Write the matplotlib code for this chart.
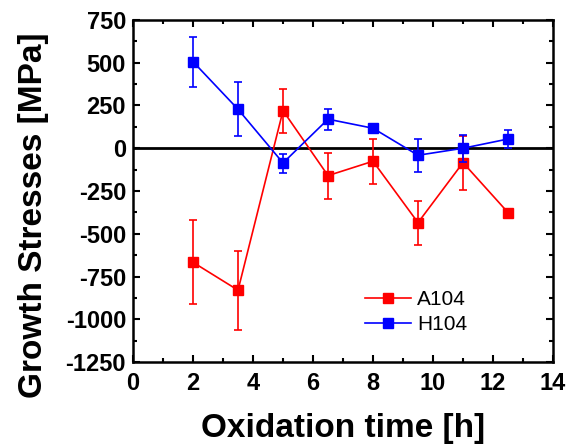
import matplotlib
matplotlib.use("Agg")
import matplotlib.pyplot as plt
from matplotlib.ticker import MultipleLocator

# oxidation time [h]
time_h = [2, 3.5, 5, 6.5, 8, 9.5, 11, 12.5]

# A104 (red)
a104 = [-667, -830, 220, -160, -76, -435, -84, -376]
a104_lo = [246, 233, 131, 136, 131, 132, 163, 20]
a104_hi = [246, 228, 129, 133, 130, 127, 156, 20]

# H104 (blue)
h104 = [506, 228, -86, 170, 117, -41, 0, 54]
h104_lo = [148, 154, 57, 61, 12, 96, 82, 50]
h104_hi = [143, 158, 54, 60, 12, 95, 78, 51]

RED = "#ff0000"
BLUE = "#0000ff"

plt.rcParams["font.family"] = ["Liberation Sans", "DejaVu Sans"]
plt.rcParams["axes.unicode_minus"] = False

fig = plt.figure(figsize=(5.85, 4.46), dpi=100)
ax = fig.add_axes([0.2274, 0.1883, 0.7179, 0.7669])

ax.axhline(0, color="black", lw=2.0, zorder=1)

handles = []
for x, y, lo, hi, color, label, z in [
    (time_h, a104, a104_lo, a104_hi, RED, "A104", 2),
    (time_h, h104, h104_lo, h104_hi, BLUE, "H104", 3),
]:
    eb = ax.errorbar(x, y, yerr=[lo, hi], color=color, lw=1.2, elinewidth=1.2,
                     capsize=3, capthick=1.2, marker="s", markersize=7.5,
                     label=label, zorder=z)
    handles.append(eb[0])

ax.set_xlim(0, 14)
ax.set_ylim(-1250, 750)
ax.xaxis.set_major_locator(MultipleLocator(2))
ax.xaxis.set_minor_locator(MultipleLocator(1))
ax.yaxis.set_major_locator(MultipleLocator(250))
ax.yaxis.set_minor_locator(MultipleLocator(125))
ax.tick_params(which="both", direction="in", top=True, right=True, width=1.5,
               labelsize=17)
ax.tick_params(axis="x", pad=7)
ax.tick_params(axis="y", pad=5)
ax.tick_params(which="major", length=5)
ax.tick_params(which="minor", length=3)
for lab in ax.get_xticklabels() + ax.get_yticklabels():
    lab.set_fontweight("bold")
for sp in ax.spines.values():
    sp.set_linewidth(1.8)

ax.set_xlabel("Oxidation time [h]", fontsize=24, fontweight="bold", labelpad=13)
ax.set_ylabel("Growth Stresses [MPa]", fontsize=24, fontweight="bold")
ax.yaxis.set_label_coords(-0.2, 0.43)

ax.legend(handles, ["A104", "H104"], loc="center", bbox_to_anchor=(0.674, 0.146),
          frameon=False, fontsize=15, handlelength=2.2, handletextpad=0.3,
          labelspacing=0.3, markerscale=0.9)

fig.savefig("out.png", dpi=100)
